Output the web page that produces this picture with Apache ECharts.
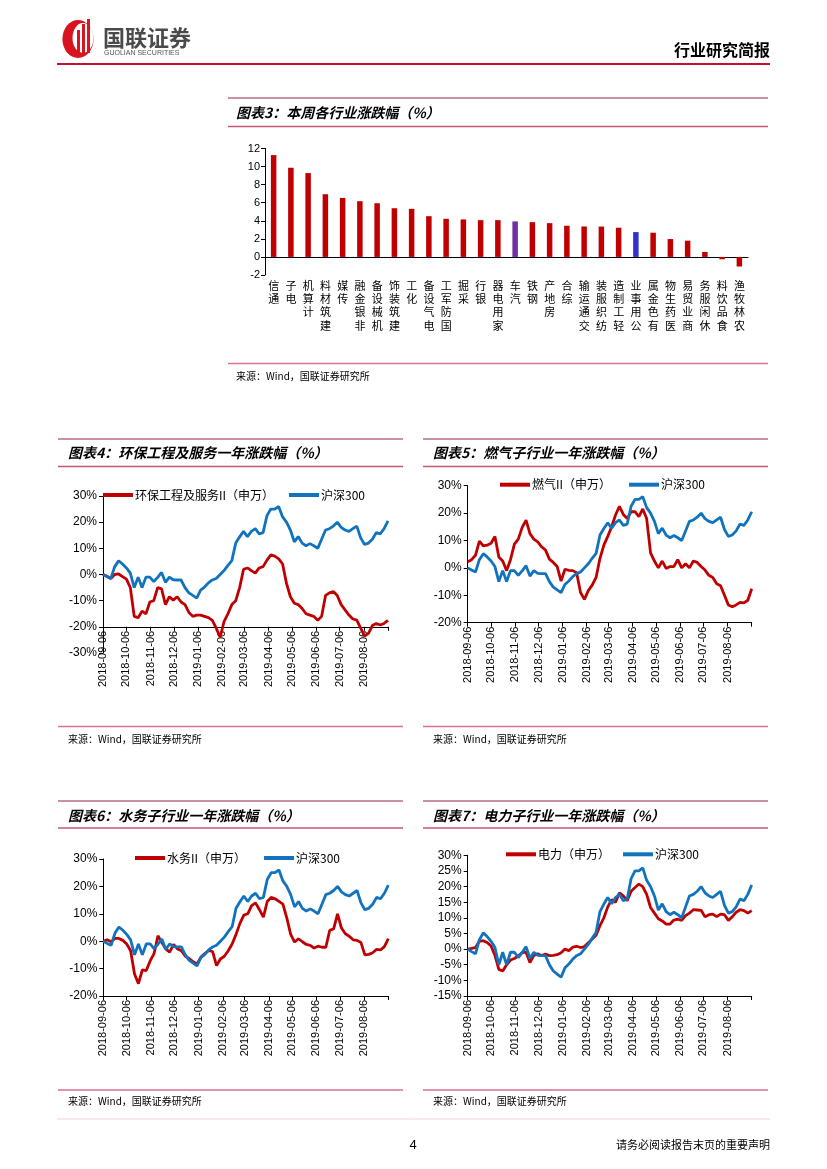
<!DOCTYPE html>
<html><head><meta charset="utf-8">
<script src="https://cdn.jsdelivr.net/npm/echarts@6.0.0/dist/echarts.min.js"></script>
<style>html,body{margin:0;padding:0;background:#fff}#c{width:827px;height:1169px}</style>
</head><body><div id="c"></div>
<script>
// ---------- data ----------
const industries = ['通信','电子','计算机','建筑材料','传媒','非银金融','机械设备','建筑装饰','化工','电气设备','国防军工','采掘','银行','家用电器','汽车','钢铁','房地产','综合','交通运输','纺织服装','轻工制造','公用事业','有色金属','医药生物','商业贸易','休闲服务','食品饮料','农林牧渔'];
const weekChange = [11.27,9.87,9.28,6.94,6.53,6.17,5.94,5.39,5.32,4.51,4.22,4.15,4.07,4.07,3.93,3.85,3.74,3.45,3.37,3.36,3.23,2.75,2.68,1.98,1.80,0.55,-0.26,-1.06];
const highlight = {'汽车':'#7030A0','公用事业':'#3232C8'};

const monthDays = [0,30,61,91,122,153,181,212,242,273,303,334,365];
const monthLabels = ['2018-09-06','2018-10-06','2018-11-06','2018-12-06','2019-01-06','2019-02-06','2019-03-06','2019-04-06','2019-05-06','2019-06-06','2019-07-06','2019-08-06'];
const sampleStep = 5; // one reading every 5 calendar days from 2018-09-06

const hs300 = [0,-0.8,-1.5,3.0,5.2,4.0,2.5,0.5,-5.0,-1.0,-5.0,-1.0,-1.0,-2.7,-1.1,0.8,-3.0,-1.0,-2.0,-2.1,-2.1,-5.0,-7.0,-8.0,-9.0,-6.0,-4.8,-3.2,-2.1,-1.5,0.0,1.5,3.5,5.3,12.0,14.4,16.5,14.5,16.5,17.5,15.5,16.0,22.5,25.0,25.0,26.0,22.0,20.0,17.0,12.5,14.5,12.0,11.0,11.8,11.0,10.0,13.5,17.0,17.5,18.5,20.0,18.0,17.0,16.5,17.5,18.5,14.0,11.5,12.0,13.5,16.0,15.5,17.5,20.5];
const envService = [0,-0.7,-1.5,0,0.2,-0.8,-1.8,-5.0,-16.0,-16.5,-14.0,-15.0,-10.5,-10.0,-5.0,-5.5,-11.5,-8.5,-9.8,-8.5,-10.5,-11.5,-14.5,-16.0,-15.5,-15.5,-16.0,-16.5,-17.5,-20.5,-24.0,-18.0,-15.0,-11.5,-10.0,-5.0,2.0,2.5,1.5,0.5,2.5,3.0,5.5,7.5,7.0,6.0,4.0,-3.4,-8.5,-11.0,-11.5,-13.0,-15.0,-15.5,-16.0,-17.5,-16.0,-8.0,-7.0,-6.5,-8.0,-11.5,-13.5,-15.5,-17.0,-17.4,-20.5,-23.5,-22.5,-19.5,-18.7,-19.3,-18.7,-17.5];
const gas = [2.2,3.0,4.6,9.8,8.0,8.3,9.0,11.5,4.0,2.5,-1.0,3.0,8.7,10.5,14.8,17.4,12.5,10.5,9.5,7.7,6.5,3.2,2.0,0.5,-4.8,-0.5,-0.9,-1.0,-1.8,-9.0,-11.5,-8.3,-6.3,-3.5,3.5,8.3,11.5,15.0,19.3,22.5,19.5,18.0,20.5,20.5,18.7,21.5,18.0,5.5,2.5,0.0,2.5,-0.2,0.5,0.5,3.0,0.0,1.5,0.0,2.5,2.0,0.5,-0.8,-2.7,-3.5,-5.8,-6.5,-10.0,-13.5,-14.2,-13.5,-12.6,-12.8,-11.8,-7.6];
const water = [0,0.5,-0.2,1.0,1.0,0.3,-1.0,-3.5,-12.0,-15.5,-10.5,-10.7,-7.2,-4.5,2.0,-0.5,-2.8,-4.0,-1.2,-2.8,-3.5,-5.5,-6.3,-7.5,-8.3,-5.8,-4.5,-3.4,-3.8,-8.9,-6.5,-5.5,-3.5,-1.0,2.5,6.5,9.5,10.0,13.0,14.0,11.5,8.8,14.5,16.0,15.5,14.5,13.5,8.5,2.5,-0.3,0.9,-0.2,-1.2,-1.5,-2.5,-1.8,-2.2,-2.2,4.0,4.5,10.0,4.8,2.7,1.8,0.5,0.3,-0.5,-5.0,-4.8,-4.2,-3.0,-3.2,-2.0,0.9];
const power = [0,0.2,0.5,2.5,2.7,2.1,1.0,-2.0,-6.5,-7.0,-5.0,-3.5,-3.0,-2.2,-1.1,-1.0,-4.3,-2.0,-1.5,-2.1,-1.6,-2.1,-2.0,-1.8,-1.2,0.0,-0.5,0.6,0.9,0.5,0.8,2.0,3.2,4.4,7.5,10.0,13.5,15.8,15.0,18.0,17.0,15.5,18.5,19.7,20.8,20.0,17.5,13.3,11.5,9.7,9.0,8.0,8.0,9.3,9.6,9.2,10.7,11.5,12.6,12.5,12.4,10.3,11.0,11.2,10.4,11.2,11.0,9.2,10.3,11.8,12.6,12.3,11.5,12.3];

const RED = '#C00000', BLUE = '#1172BE';
const CJK = '"Noto Sans CJK SC", sans-serif';
const LAT = '"Liberation Sans", Arial, sans-serif';

// ---------- chart setup ----------
const panels = [
  {x1:228,x2:768,top:98,tx:236,ty:113,under:126.5,src:363.5,sy:376,title:'图表3：本周各行业涨跌幅（%）'},
  {x1:58,x2:403,top:439,tx:68,ty:453,under:466.5,src:726.5,sy:739,title:'图表4：环保工程及服务一年涨跌幅（%）'},
  {x1:423,x2:768,top:439,tx:433,ty:453,under:466.5,src:726.5,sy:739,title:'图表5：燃气子行业一年涨跌幅（%）'},
  {x1:58,x2:403,top:801,tx:68,ty:815.5,under:828,src:1090,sy:1101,title:'图表6：水务子行业一年涨跌幅（%）'},
  {x1:423,x2:768,top:801,tx:433,ty:815.5,under:828,src:1090,sy:1101,title:'图表7：电力子行业一年涨跌幅（%）'}
];
const graphics = [];
function hline(x1,x2,y,color,w){graphics.push({type:'line',shape:{x1:x1,y1:y,x2:x2,y2:y},style:{stroke:color,lineWidth:w},silent:true});}
function text(t,x,y,font,align,color){graphics.push({type:'text',x:x,y:y,style:{text:t,font:font,fill:color||'#000',align:align||'left',verticalAlign:'middle'},silent:true});}
panels.forEach(p=>{
  hline(p.x1,p.x2,p.top,'#9B2343',1);
  text(p.title,p.tx,p.ty,'italic bold 14px '+CJK);
  hline(p.x1,p.x2,p.under,'#C9566F',1.5);
  hline(p.x1,p.x2,p.src,'#D9728A',1.5);
  text('来源：Wind，国联证券研究所',p.tx,p.sy,'10px '+CJK);
});
// header
hline(57,770,64,'#C8102E',2);
graphics.push({type:'circle',shape:{cx:0,cy:0,r:19},x:78,y:39,scaleX:0.82,style:{fill:'#D7141F'},silent:true});
graphics.push({type:'circle',shape:{cx:0,cy:0,r:15},x:83,y:38,scaleX:0.7,style:{fill:'#fff'},silent:true});
graphics.push({type:'rect',shape:{x:77,y:30,width:3,height:27},style:{fill:'#D7141F'},silent:true});
graphics.push({type:'rect',shape:{x:82,y:24,width:3,height:32},style:{fill:'#D7141F'},silent:true});
graphics.push({type:'rect',shape:{x:87,y:19,width:3,height:34},style:{fill:'#D7141F'},silent:true});
text('国联证券',103,38,'bold 22px '+CJK,'left','#4A4A4A');
text('GUOLIAN SECURITIES',104,53.5,'7px '+LAT,'left','#555');
text('行业研究简报',770,50,'bold 16px '+CJK,'right','#000');
// footer
hline(57,770,1119,'#F2D0D8',1);
text('4',413,1145,'13px '+LAT,'center');
text('请务必阅读报告末页的重要声明',770,1145,'11px '+CJK,'right');

const days = hs300.map((_,i)=>i*sampleStep);
const toPts = arr => arr.map((v,i)=>[days[i],v]);

const lineCharts = [
  {grid:{left:103,top:496,width:285,height:157},min:-30,max:30,interval:10,offset:-26.2,name:'环保工程及服务II（申万）',vals:envService,legend:{left:103,top:489,gap:15}},
  {grid:{left:467.7,top:485.7,width:284,height:137},min:-20,max:30,interval:10,offset:0,name:'燃气II（申万）',vals:gas,legend:{left:500,top:478.7,gap:18}},
  {grid:{left:103.3,top:859,width:285,height:137},min:-20,max:30,interval:10,offset:0,name:'水务II（申万）',vals:water,legend:{left:135,top:852,gap:18}},
  {grid:{left:467.7,top:855.3,width:284,height:140.7},min:-15,max:30,interval:5,offset:0,name:'电力（申万）',vals:power,legend:{left:506,top:848.3,gap:13}}
];

const grid = [{left:265,top:148.5,width:483,height:126.5,outerBoundsMode:'none'}];
const xAxis = [{
  type:'category',gridIndex:0,data:industries,
  axisLine:{onZero:true,lineStyle:{color:'#000',width:1}},
  axisTick:{interval:0,length:4,lineStyle:{color:'#000'}},
  axisLabel:{interval:0,margin:4,fontSize:11,lineHeight:13.3,color:'#000',fontFamily:CJK,verticalAlign:'top',
    formatter:v=>v.split('').reverse().join('\n')}
}];
const yAxis = [{
  type:'value',gridIndex:0,min:-2,max:12,interval:2,
  axisLine:{show:true,lineStyle:{color:'#000'}},axisTick:{show:true,length:4,lineStyle:{color:'#000'}},
  splitLine:{show:false},axisLabel:{fontSize:11,color:'#000',fontFamily:LAT,margin:5}
}];
const series = [{
  type:'bar',xAxisIndex:0,yAxisIndex:0,barWidth:5.5,
  data:weekChange.map((v,i)=>({value:v,itemStyle:{color:highlight[industries[i]]||RED}}))
}];
const legend = [];
lineCharts.forEach((c,k)=>{
  const gi = k+1;
  grid.push(Object.assign({outerBoundsMode:'none'},c.grid));
  xAxis.push({
    type:'value',gridIndex:gi,min:0,max:365,offset:c.offset,
    axisLine:{show:true,onZero:false,lineStyle:{color:'#000'}},
    axisTick:{show:true,length:4,lineStyle:{color:'#000'},customValues:monthDays},
    axisLabel:{rotate:90,fontSize:11,color:'#000',fontFamily:LAT,margin:4,customValues:monthDays.slice(0,12),
      formatter:v=>{const i=monthDays.indexOf(v);return i>=0&&i<monthLabels.length?monthLabels[i]:'';}},
    splitLine:{show:false}
  });
  yAxis.push({
    type:'value',gridIndex:gi,min:c.min,max:c.max,interval:c.interval,
    axisLine:{show:true,lineStyle:{color:'#000'}},axisTick:{show:true,length:4,lineStyle:{color:'#000'}},
    splitLine:{show:false},axisLabel:{fontSize:12,color:'#000',fontFamily:LAT,margin:6,formatter:'{value}%'}
  });
  series.push({type:'line',name:c.name,xAxisIndex:gi,yAxisIndex:gi,data:toPts(c.vals),symbol:'none',
    lineStyle:{color:RED,width:2.8},itemStyle:{color:RED},animation:false});
  series.push({type:'line',name:'沪深300',xAxisIndex:gi,yAxisIndex:gi,data:toPts(hs300),symbol:'none',
    lineStyle:{color:BLUE,width:2.8},itemStyle:{color:BLUE},animation:false});
  legend.push({data:[c.name,'沪深300'],left:c.legend.left,top:c.legend.top,padding:0,itemGap:c.legend.gap,
    icon:'rect',itemWidth:30,itemHeight:4,selectedMode:false,
    textStyle:{fontSize:12,color:'#000',fontFamily:CJK,padding:[0,0,0,-3]}});
});

const chart = echarts.init(document.getElementById('c'),null,{renderer:'canvas'});
chart.setOption({
  animation:false,backgroundColor:'#fff',
  grid:grid,xAxis:xAxis,yAxis:yAxis,series:series,legend:legend,
  graphic:{elements:graphics}
});
</script></body></html>
